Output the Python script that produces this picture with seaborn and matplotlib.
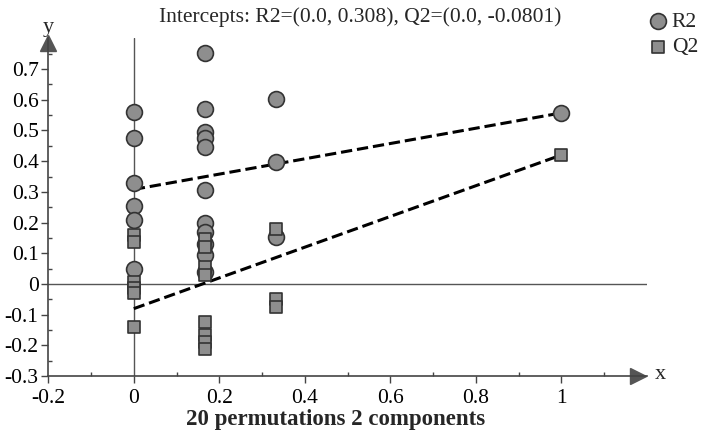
import numpy as np
import pandas as pd
import matplotlib.pyplot as plt
import seaborn as sns
from matplotlib.ticker import FuncFormatter

title = "Intercepts: R2=(0.0, 0.308), Q2=(0.0, -0.0801)"
xlabel = "20 permutations 2 components"

# permuted models: x = correlation with original y, last point is the original model
r2_x = [0, 0, 0, 0, 0, 0,
        0.167, 0.167, 0.167, 0.167, 0.167, 0.167, 0.167, 0.167, 0.167, 0.167, 0.167,
        0.333, 0.333, 0.333, 1]
r2_y = [0.56, 0.475, 0.33, 0.255, 0.208, 0.05,
        0.752, 0.57, 0.495, 0.475, 0.447, 0.306, 0.198, 0.17, 0.13, 0.094, 0.04,
        0.603, 0.397, 0.153, 0.557]

q2_x = [0, 0, 0, 0, 0, 0,
        0.167, 0.167, 0.167, 0.167, 0.167, 0.167, 0.167, 0.167,
        0.333, 0.333, 0.333, 1]
q2_y = [0.16, 0.137, 0.007, -0.013, -0.03, -0.14,
        0.145, 0.12, 0.055, 0.03, -0.124, -0.166, -0.19, -0.21,
        0.18, -0.05, -0.075, 0.42]

# regression lines from intercept to original model
line_x = [0.0, 1.0]
r2_line = [0.308, 0.557]
q2_line = [-0.0801, 0.42]

sns.set_theme(style="white")
plt.rcParams['font.family'] = ['Liberation Serif', 'DejaVu Serif']

fig, ax = plt.subplots(figsize=(7.1, 4.4), dpi=100)
fig.subplots_adjust(left=0.068, right=0.911, bottom=0.145, top=0.913)

axis_col = '#444444'
ax.axhline(0, color='#555555', lw=1, zorder=1)
ax.axvline(0, color='#555555', lw=1, zorder=1)

sns.lineplot(x=line_x, y=r2_line, ax=ax, color='black', lw=2.2, linestyle='--', zorder=2)
sns.lineplot(x=line_x, y=q2_line, ax=ax, color='black', lw=2.2, linestyle='--', zorder=2)

face = '#8e8e8e'
edge = '#333333'
sns.scatterplot(x=r2_x, y=r2_y, ax=ax, marker='o', s=130, color=face,
                edgecolor=edge, linewidth=1.2, label='R2', zorder=3)
sns.scatterplot(x=q2_x, y=q2_y, ax=ax, marker='s', s=85, color=face,
                edgecolor=edge, linewidth=1.2, label='Q2', zorder=4)

ax.set_xlim(-0.2, 1.2)
ax.set_ylim(-0.3, 0.8)
ax.set_xlabel('')
ax.set_ylabel('')

fmt = FuncFormatter(lambda v, p: f"{round(v, 2):g}")
ax.xaxis.set_major_formatter(fmt)
ax.yaxis.set_major_formatter(fmt)
ax.set_xticks(np.arange(-0.2, 1.01, 0.2))
ax.set_yticks(np.arange(-0.3, 0.71, 0.1))
ax.set_yticks(np.arange(-0.25, 0.76, 0.05), minor=True)
ax.set_xticks(np.arange(-0.1, 1.11, 0.1), minor=True)

ax.tick_params(which='major', direction='out', length=5, width=1, color=axis_col,
               labelsize=15.5, labelcolor='black', pad=2, bottom=True, left=True)
ax.tick_params(axis='x', which='major', pad=4)
ax.tick_params(which='minor', direction='in', length=3, width=1, color=axis_col,
               bottom=True, left=True)

for s in ['top', 'right']:
    ax.spines[s].set_visible(False)
for s in ['left', 'bottom']:
    ax.spines[s].set_color(axis_col)
    ax.spines[s].set_linewidth(1.2)

# arrow heads on axes
ax.plot(0.985, 0, '>', color='#555555', ms=11, transform=ax.transAxes, clip_on=False)
ax.plot(0, 0.985, '^', color='#555555', ms=11, transform=ax.transAxes, clip_on=False)
ax.text(1.013, 0.005, 'x', transform=ax.transAxes, fontsize=16, ha='left', va='center')
ax.text(0.0, 1.005, 'y', transform=ax.transAxes, fontsize=16, ha='center', va='bottom')

ax.get_legend().remove()
handles, labels = ax.get_legend_handles_labels()
fig.legend(handles, labels, loc='upper right', bbox_to_anchor=(1.0, 1.0),
           frameon=False, fontsize=15.5, handletextpad=0.1, labelspacing=0.25,
           borderaxespad=0.15, handlelength=1.1)

fig.text(0.507, 0.962, title, ha='center', va='center', fontsize=15.5)
fig.text(0.472, 0.047, xlabel, ha='center', va='center', fontsize=16.5, fontweight='bold')

fig.savefig('out.png', dpi=100)
